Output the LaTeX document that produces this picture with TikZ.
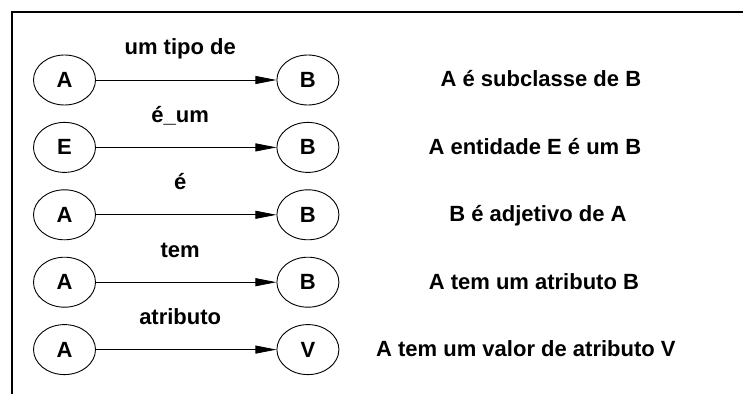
\documentclass[tikz,border=0pt]{standalone}
\usepackage{fontspec}
\setmainfont{Liberation Sans}
\usetikzlibrary{arrows.meta, positioning, shapes.geometric}

\begin{document}
\begin{tikzpicture}[
    x=1pt, y=1pt,
    node distance=16.5pt and 180.5pt,
    every node/.style={font=\bfseries\fontsize{22}{26}\selectfont},
    elem/.style={ellipse, draw, line width=0.9pt, minimum width=62pt, minimum height=50pt, inner sep=0pt},
    lbl/.style={anchor=base, xshift=-6pt, yshift=25pt},
    desc/.style={anchor=base, yshift=-7pt},
    arrow/.style={-{Triangle[length=21pt, width=8pt]}, line width=0.9pt}
]

\useasboundingbox (0,0) rectangle (743,394);

% Frame
\draw[line width=2pt] (12,0) -- (12,382) -- (743,382);

% Left column
\node[elem] (a1) at (64.5,314) {A};
\node[elem, below=of a1] (e2) {E};
\node[elem, below=of e2] (a3) {A};
\node[elem, below=of a3] (a4) {A};
\node[elem, below=of a4] (a5) {A};

% Right column
\node[elem, right=of a1] (b1) {B};
\node[elem, right=of e2] (b2) {B};
\node[elem, right=of a3] (b3) {B};
\node[elem, right=of a4] (b4) {B};
\node[elem, right=of a5] (v5) {V};

% Relations
\draw[arrow] (a1) -- node[lbl] {um tipo de} (b1);
\draw[arrow] (e2) -- node[lbl] {é\_um} (b2);
\draw[arrow] (a3) -- node[lbl] {é} (b3);
\draw[arrow] (a4) -- node[lbl] {tem} (b4);
\draw[arrow] (a5) -- node[lbl] {atributo} (v5);

% Meanings
\node[desc, xshift=233pt] (m1) at (b1) {A é subclasse de B};
\node[desc, xshift=227pt] (m2) at (b2) {A entidade E é um B};
\node[desc, xshift=230pt] (m3) at (b3) {B é adjetivo de A};
\node[desc, xshift=226pt] (m4) at (b4) {A tem um atributo B};
\node[desc, xshift=218pt] (m5) at (v5) {A tem um valor de atributo V};

\end{tikzpicture}
\end{document}
